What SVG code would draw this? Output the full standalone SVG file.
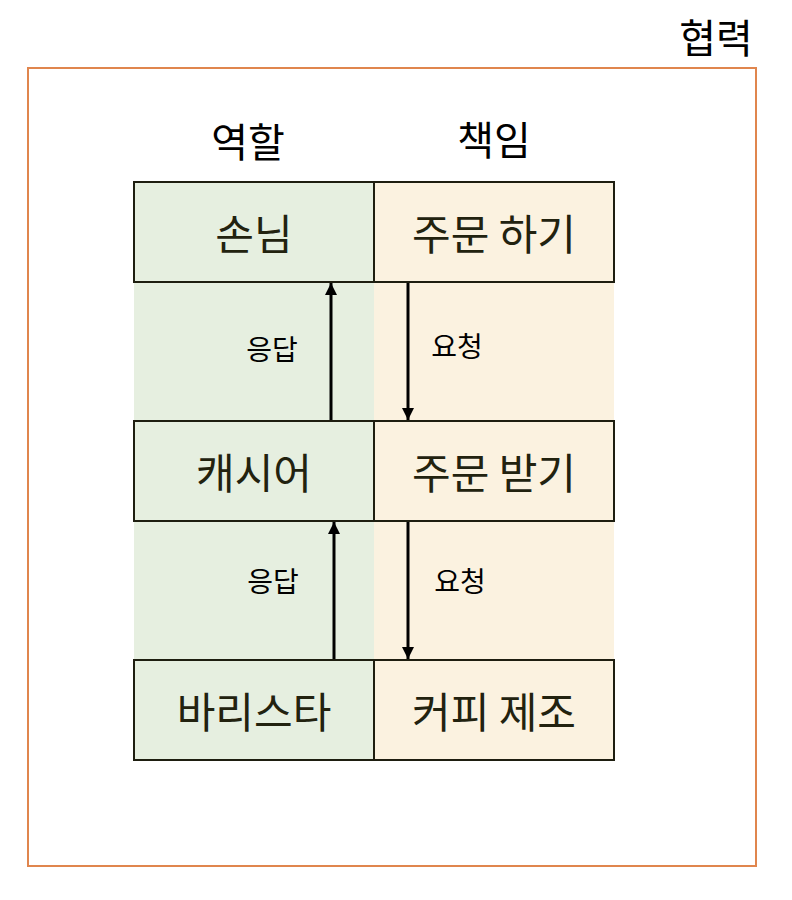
<svg xmlns="http://www.w3.org/2000/svg" width="792" height="900" viewBox="0 0 792 900">
<defs>
<style>
text{font-family:"Noto Sans CJK KR","Noto Sans",sans-serif;text-anchor:middle;dominant-baseline:central}
.node{stroke:#1e1e10;stroke-width:2}
.role{fill:#e6efe0}
.resp{fill:#fbf2e0}
.nt{font-size:42px;fill:#22220f}
.hd{font-size:40px;fill:#000}
.lb{font-size:28px;fill:#000}
.conn{stroke:#000;stroke-width:3;fill:none}
</style>
<marker id="ah" viewBox="0 0 10 10" refX="10" refY="5" markerWidth="4" markerHeight="4" orient="auto" markerUnits="strokeWidth">
<path d="M0,0L10,5L0,10z" fill="#000"/>
</marker>
</defs>
<rect width="792" height="900" fill="#fff"/>
<g id="collab">
<rect x="28" y="68" width="728" height="798" fill="none" stroke="#e0864e" stroke-width="2"/>
<text class="hd" x="716" y="36">협력</text>
</g>
<g id="headers">
<text class="hd" x="248" y="140">역할</text>
<text class="hd" x="494" y="138">책임</text>
</g>
<g id="bands">
<rect x="134" y="282" width="240" height="139" class="role"/>
<rect x="374" y="282" width="240" height="139" class="resp"/>
<rect x="134" y="521" width="240" height="139" class="role"/>
<rect x="374" y="521" width="240" height="139" class="resp"/>
</g>
<g id="customer"><rect x="134" y="182" width="240" height="100" class="node role"/><text class="nt" x="254" y="231">손님</text></g>
<g id="order"><rect x="374" y="182" width="240" height="100" class="node resp"/><text class="nt" x="494" y="231">주문 하기</text></g>
<g id="cashier"><rect x="134" y="421" width="240" height="100" class="node role"/><text class="nt" x="254" y="470">캐시어</text></g>
<g id="receive"><rect x="374" y="421" width="240" height="100" class="node resp"/><text class="nt" x="494" y="470">주문 받기</text></g>
<g id="barista"><rect x="134" y="660" width="240" height="100" class="node role"/><text class="nt" x="254" y="709">바리스타</text></g>
<g id="coffee"><rect x="374" y="660" width="240" height="100" class="node resp"/><text class="nt" x="494" y="709">커피 제조</text></g>
<g id="connectors">
<line class="conn" x1="331" y1="420" x2="331" y2="283" marker-end="url(#ah)"/>
<line class="conn" x1="408" y1="283" x2="408" y2="420" marker-end="url(#ah)"/>
<line class="conn" x1="334" y1="659" x2="334" y2="522" marker-end="url(#ah)"/>
<line class="conn" x1="408" y1="522" x2="408" y2="659" marker-end="url(#ah)"/>
<text class="lb" x="272" y="348">응답</text>
<text class="lb" x="457" y="345">요청</text>
<text class="lb" x="273" y="580">응답</text>
<text class="lb" x="460" y="580">요청</text>
</g>
</svg>
